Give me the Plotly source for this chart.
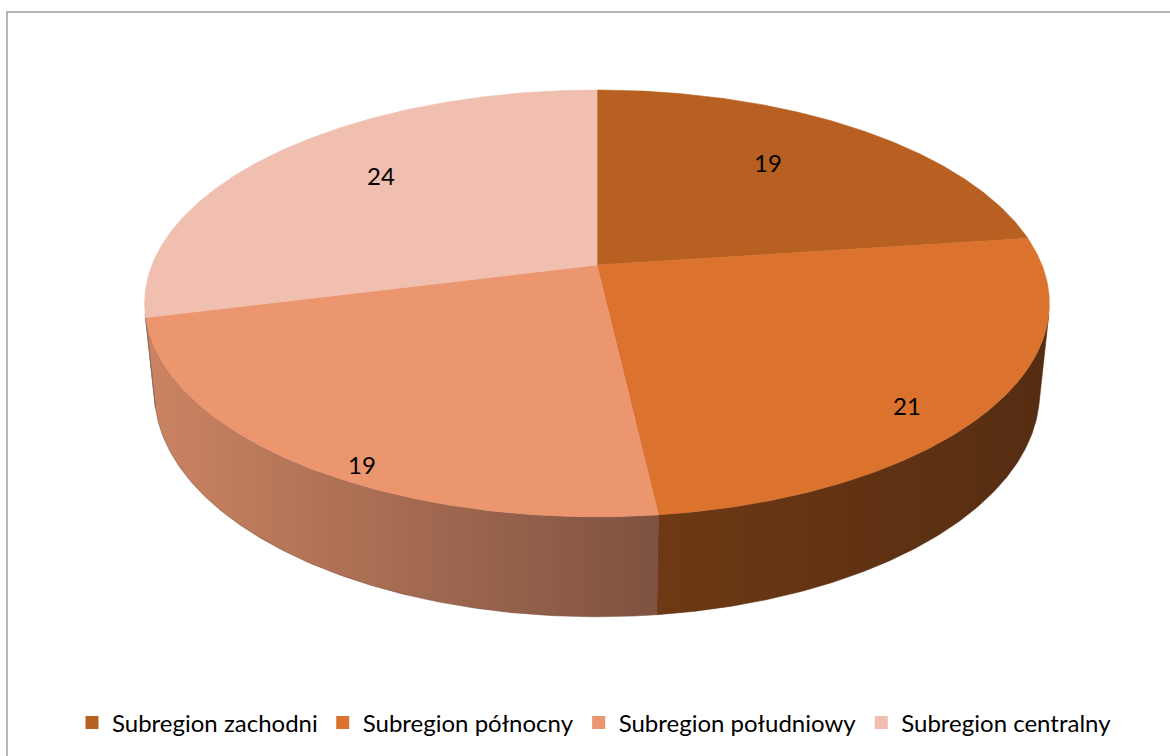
import numpy as np
import plotly.graph_objects as go

# ---- data ----
categories = ["Subregion zachodni", "Subregion północny", "Subregion południowy", "Subregion centralny"]
values = [19, 21, 19, 24]

# ---- styles ----
top_colors = ["#B86022", "#DB732F", "#EC9670", "#F0BFAF"]
side_left = ["#8A4818", "#6E3914", "#CC8462", "#B48A7E"]
side_right = ["#6A3512", "#552D12", "#7E5241", "#8A6A60"]
font_family = "Lato, 'Open Sans', sans-serif"

W, H = 1170, 756
# projection parameters of the tilted disk (pixel space)
alpha = np.arcsin(206.5 / 445.0)
k = 0.18
L = np.cos(alpha) / k
f = 445.0 * L
cx, cy = 597.0, 265.0
thick = 0.227


def proj(phi, r=1.0, yv=0.0):
    X = r * np.sin(phi)
    Z = -r * np.cos(phi)
    depth = L - yv * np.sin(alpha) - Z * np.cos(alpha)
    sx = cx + f * X / depth
    syup = f * (yv * np.cos(alpha) - Z * np.sin(alpha)) / depth
    return sx, cy - syup


total = float(sum(values))
cum = np.concatenate([[0.0], np.cumsum(values)]) / total * 2 * np.pi

fig = go.Figure()

# visible side range (tangent points of the cylinder silhouette)
tang = np.arccos(1.0 / (L * np.cos(alpha)))
vis_a, vis_b = np.pi - tang, np.pi + tang

# side faces
for i in range(len(values)):
    a = max(cum[i], vis_a)
    b = min(cum[i + 1], vis_b)
    if b <= a:
        continue
    ph = np.linspace(a, b, 200)
    tx, ty = proj(ph)
    bx, by = proj(ph[::-1], 1.0, -thick)
    xs = np.concatenate([tx, bx, tx[:1]])
    ys = np.concatenate([ty, by, ty[:1]])
    fig.add_trace(go.Scatter(
        x=xs, y=ys, mode="lines", fill="toself",
        line=dict(width=0.6, color=side_right[i]),
        fillgradient=dict(type="horizontal",
                          colorscale=[[0, side_left[i]], [1, side_right[i]]]),
        hoverinfo="skip", showlegend=False))

# top faces
for i in range(len(values)):
    ph = np.linspace(cum[i], cum[i + 1], 200)
    ax, ay = proj(ph)
    xs = np.concatenate([[cx], ax, [cx]])
    ys = np.concatenate([[cy], ay, [cy]])
    fig.add_trace(go.Scatter(
        x=xs, y=ys, mode="lines", fill="toself", fillcolor=top_colors[i],
        line=dict(width=0.6, color=top_colors[i]),
        hoverinfo="skip", showlegend=False))

# labels: placed on the slice bisector, further out toward the front
for i, v in enumerate(values):
    mid = (cum[i] + cum[i + 1]) / 2
    ra = 333 - 97 * np.cos(mid)
    rb = 187 - 67 * np.cos(mid)
    lx = cx + ra * np.sin(mid)
    ly = cy - rb * np.cos(mid)
    fig.add_annotation(x=lx, y=ly, text=str(v), showarrow=False,
                       font=dict(size=24, color="#000000", family=font_family))

# legend entries
for i, c in enumerate(categories):
    fig.add_trace(go.Scatter(x=[None], y=[None], mode="markers", name=c,
                             marker=dict(symbol="square", size=13, color=top_colors[i])))

fig.add_shape(type="rect", xref="paper", yref="paper", x0=7 / W, x1=1.02, y0=-0.02, y1=1 - 12 / H,
              line=dict(color="#A0A0A0", width=1.5), fillcolor="rgba(0,0,0,0)")

fig.update_layout(
    width=W, height=H,
    margin=dict(l=0, r=0, t=0, b=0),
    paper_bgcolor="white", plot_bgcolor="white",
    xaxis=dict(range=[0, W], visible=False, fixedrange=True),
    yaxis=dict(range=[H, 0], visible=False, fixedrange=True),
    showlegend=True,
    legend=dict(orientation="h", x=72 / W, xanchor="left", y=1 - 723 / H, yanchor="middle",
                font=dict(size=24, color="#000000", family=font_family),
                itemwidth=30, bgcolor="rgba(0,0,0,0)"),
)

fig.write_html("out.html", config={"displayModeBar": False},
               post_script="document.body.style.margin='0';")
